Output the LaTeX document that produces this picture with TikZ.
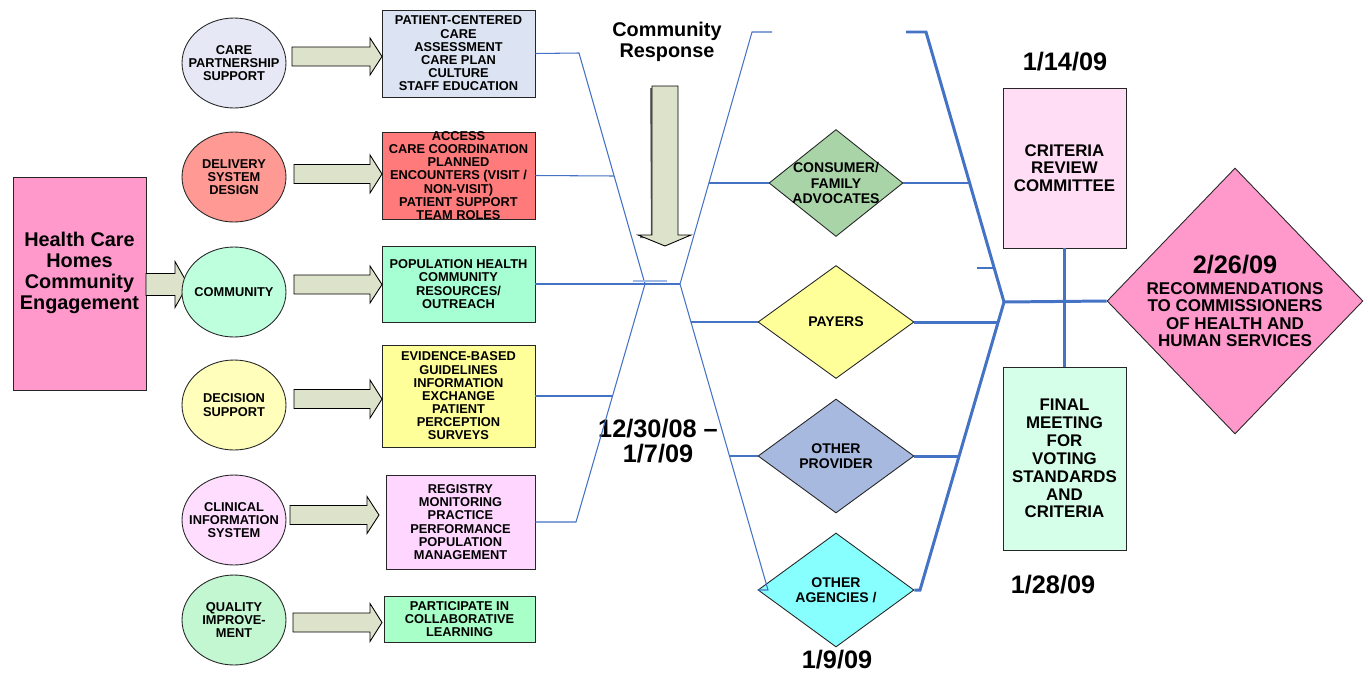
\documentclass[tikz,border=0pt]{standalone}
\usepackage{fontspec}
\setmainfont{Liberation Sans}
\usetikzlibrary{shapes.geometric}
\definecolor{LineClr}{RGB}{68,114,196}
\definecolor{PaleLineClr}{RGB}{160,185,230}
\definecolor{ArrowClr}{RGB}{221,226,203}
\definecolor{EngageClr}{RGB}{255,153,204}
\definecolor{PartnerClr}{RGB}{230,233,245}
\definecolor{DeliveryClr}{RGB}{255,153,148}
\definecolor{CommunityClr}{RGB}{190,255,222}
\definecolor{DecisionClr}{RGB}{255,255,187}
\definecolor{ClinicalClr}{RGB}{255,221,255}
\definecolor{QualityClr}{RGB}{194,247,210}
\definecolor{CareBoxClr}{RGB}{220,227,242}
\definecolor{AccessBoxClr}{RGB}{255,122,122}
\definecolor{PopBoxClr}{RGB}{166,255,210}
\definecolor{EvidBoxClr}{RGB}{255,255,153}
\definecolor{RegBoxClr}{RGB}{255,214,255}
\definecolor{LearnBoxClr}{RGB}{168,255,200}
\definecolor{ConsumerClr}{RGB}{168,212,168}
\definecolor{PayerClr}{RGB}{255,255,153}
\definecolor{ProviderClr}{RGB}{167,185,222}
\definecolor{AgencyClr}{RGB}{136,255,255}
\definecolor{CriteriaClr}{RGB}{255,222,245}
\definecolor{FinalClr}{RGB}{214,255,234}
\newcommand\SmallB{\fontsize{7.3}{7.5}\selectfont\bfseries}
\newcommand\DmdB{\fontsize{8}{8.6}\selectfont\bfseries}
\newcommand\MedB{\fontsize{9.6}{10}\selectfont\bfseries}
\newcommand\TallB{\fontsize{9.6}{10.2}\selectfont\bfseries}
\newcommand\RecB{\fontsize{9.7}{9.8}\selectfont\bfseries}
\newcommand\BigB{\fontsize{11.3}{11.9}\selectfont\bfseries}
\newcommand\DateB{\fontsize{14.4}{14.6}\selectfont\bfseries}
% tail x, tip x, mid y, half body, half head, head length
\newcommand\RightBlock[6]{%
  \draw[blockarr] (#1,#3-#4) -- (#2-#6,#3-#4) -- (#2-#6,#3-#5) -- (#2,#3)
    -- (#2-#6,#3+#5) -- (#2-#6,#3+#4) -- (#1,#3+#4) -- cycle;}

\begin{document}
\begin{tikzpicture}[x=0.02cm,y=-0.02cm,
  every label/.style={align=center,inner sep=0pt,font=\SmallB},
  circ/.style={ellipse,draw=black!85,line width=0.5pt,minimum width=2.08cm,minimum height=1.8cm,inner sep=0pt},
  abox/.style={rectangle,draw=black!85,line width=0.5pt,inner sep=0pt},
  lbox/.style={abox,minimum width=3.06cm},
  dmd/.style={diamond,draw=black!85,line width=0.5pt,inner sep=0pt},
  blockarr/.style={draw=black,line width=0.5pt,fill=ArrowClr,line join=miter},
  thin line/.style={draw=LineClr,line width=0.6pt},
  thick line/.style={draw=LineClr,line width=1.7pt},
  date/.style={font=\DateB,align=center,inner sep=0pt}]
\useasboundingbox (0,0) rectangle (1368,673);

% start box
\node[abox,fill=EngageClr,minimum width=2.66cm,minimum height=4.26cm,
  label={[font=\BigB,yshift=6pt]center:Health Care\\Homes\\Community\\Engagement}] (engage) at (79.5,283.5) {};
\RightBlock{146}{188}{284.5}{11}{23}{13}

% circles
\node[circ,fill=PartnerClr,label=center:{CARE\\PARTNERSHIP\\SUPPORT}] (care) at (234,63) {};
\node[circ,fill=DeliveryClr,label=center:{DELIVERY\\SYSTEM\\DESIGN}] (deliv) at (234,177) {};
\node[circ,fill=CommunityClr,label=center:{COMMUNITY}] (comm) at (234,292) {};
\node[circ,fill=DecisionClr,label=center:{DECISION\\SUPPORT}] (decis) at (234,405) {};
\node[circ,fill=ClinicalClr,label=center:{CLINICAL\\INFORMATION\\SYSTEM}] (clin) at (234,520) {};
\node[circ,fill=QualityClr,label=center:{QUALITY\\IMPROVE-\\MENT}] (qual) at (234,620) {};

% boxes
\node[lbox,fill=CareBoxClr,minimum height=1.74cm,
  label=center:{PATIENT-CENTERED\\CARE\\ASSESSMENT\\CARE PLAN\\CULTURE\\STAFF EDUCATION}] (carebox) at (458.5,53.5) {};
\node[lbox,fill=AccessBoxClr,minimum height=1.74cm,
  label=center:{ACCESS\\CARE COORDINATION\\PLANNED\\ENCOUNTERS (VISIT /\\NON-VISIT)\\PATIENT SUPPORT\\TEAM ROLES}] (accbox) at (458.5,175.5) {};
\node[lbox,fill=PopBoxClr,minimum height=1.52cm,
  label=center:{POPULATION HEALTH\\COMMUNITY\\RESOURCES/\\OUTREACH}] (popbox) at (458.5,284) {};
\node[lbox,fill=EvidBoxClr,minimum height=2.04cm,
  label=center:{EVIDENCE-BASED\\GUIDELINES\\INFORMATION\\EXCHANGE\\PATIENT\\PERCEPTION\\SURVEYS}] (evidbox) at (458.5,396) {};
\node[lbox,fill=RegBoxClr,minimum width=2.98cm,minimum height=1.88cm,
  label=center:{REGISTRY\\MONITORING\\PRACTICE\\PERFORMANCE\\POPULATION\\MANAGEMENT}] (regbox) at (460.5,522) {};
\node[lbox,fill=LearnBoxClr,minimum width=3.02cm,minimum height=0.92cm,
  label=center:{PARTICIPATE IN\\COLLABORATIVE\\LEARNING}] (learnbox) at (459.5,619) {};

% block arrows
\RightBlock{292}{382}{56.5}{9.5}{18.5}{12}
\RightBlock{294}{382}{174}{9.5}{19}{12}
\RightBlock{294}{382}{284.5}{9.5}{18.5}{12}
\RightBlock{294}{382}{399}{9.5}{19}{12}
\RightBlock{290}{379}{515}{9.5}{18.5}{12}
\RightBlock{293}{382}{622.5}{9.5}{19}{12}

% community response
\node[font=\BigB,align=center,inner sep=0pt] (cresp) at (667,42) {Community\\Response};
\fill[black!55] (650,88) -- (652,88) -- (652,236) -- (640,236) -- (640,238) -- (651,238) -- cycle;
\draw[blockarr] (652,86) -- (678,86) -- (678,235) -- (691,235) -- (665,246) -- (638,235) -- (652,235) -- cycle;

% stakeholders
\node[dmd,fill=ConsumerClr,minimum width=2.68cm,minimum height=2.14cm,
  label={[font=\DmdB]center:CONSUMER/\\FAMILY\\ADVOCATES}] (consumer) at (836,183) {};
\node[dmd,fill=PayerClr,minimum width=3.12cm,minimum height=2.26cm,
  label={[font=\DmdB]center:PAYERS}] (payer) at (836,322) {};
\node[dmd,fill=ProviderClr,minimum width=3.12cm,minimum height=2.28cm,
  label={[font=\DmdB]center:OTHER\\PROVIDER}] (provider) at (836,456) {};
\node[dmd,fill=AgencyClr,minimum width=3.12cm,minimum height=2.28cm,
  label={[font=\DmdB]center:OTHER\\AGENCIES /}] (agency) at (836,590) {};

% committee
\node[abox,fill=CriteriaClr,minimum width=2.46cm,minimum height=3.2cm,
  label={[font=\MedB]center:CRITERIA\\REVIEW\\COMMITTEE}] (crit) at (1064.5,168) {};
\node[abox,fill=FinalClr,minimum width=2.46cm,minimum height=3.66cm,
  label={[font=\TallB]center:FINAL\\MEETING\\FOR\\VOTING\\STANDARDS\\AND\\CRITERIA}] (final) at (1064.5,458.5) {};
\node[dmd,fill=EngageClr,minimum width=5.12cm,minimum height=5.32cm,
  label={[font=\DateB,yshift=21pt]center:2/26/09},
  label={[font=\RecB,yshift=-7.7pt]center:RECOMMENDATIONS\\TO COMMISSIONERS\\OF HEALTH AND\\HUMAN SERVICES}] (recomm) at (1235,301) {};

% dates
\node[date] (span) at (658,441) {12/30/08 –\\1/7/09};
\node[date] (d19) at (837,660) {1/9/09};
\node[date] (d114) at (1065,62) {1/14/09};
\node[date] (d128) at (1053,585) {1/28/09};

% thin funnel
\coordinate (lt) at (579,53);
\coordinate (lm) at (645,284);
\coordinate (lb) at (576,522);
\coordinate (rm) at (680,284);
\coordinate (rt) at (752,32);
\coordinate (rtt) at (772,32);
\coordinate (rb) at (768,590);
\draw[thin line] (carebox.east) -- (lt) -- (lm) -- (lb) -- (regbox.east);
\draw[thin line] (accbox.east) -- (614,176);
\draw[thin line] (evidbox.east) -- (612,396);
\draw[thin line] (popbox.east) -- (rm);
\draw[draw=PaleLineClr,line width=0.8pt] (633,281) -- (667,281);
\draw[thin line] (rtt) -- (rt) -- (rm) -- (rb) -- (agency.west);
\draw[thin line] (709,183) -- (consumer.west);
\draw[thin line] (691,322) -- (payer.west);
\draw[thin line] (730,456) -- (provider.west);

% thick funnel
\coordinate (tt) at (906,32);
\coordinate (tk) at (926,32);
\coordinate (tm) at (1004,302);
\coordinate (tb) at (920,590);
\draw[thick line] (tt) -- (tk) -- (tm) -- (tb) -- (agency.east);
\draw[thick line] (consumer.east) -- (969.5,183);
\draw[thick line] (977,268) -- (994,268);
\draw[thick line] (payer.east) -- (998,322);
\draw[thick line] (provider.east) -- (959,456);
\draw[thick line] (tm) -- (recomm.west);
\draw[thick line] (crit.south) -- (final.north);
\end{tikzpicture}
\end{document}
